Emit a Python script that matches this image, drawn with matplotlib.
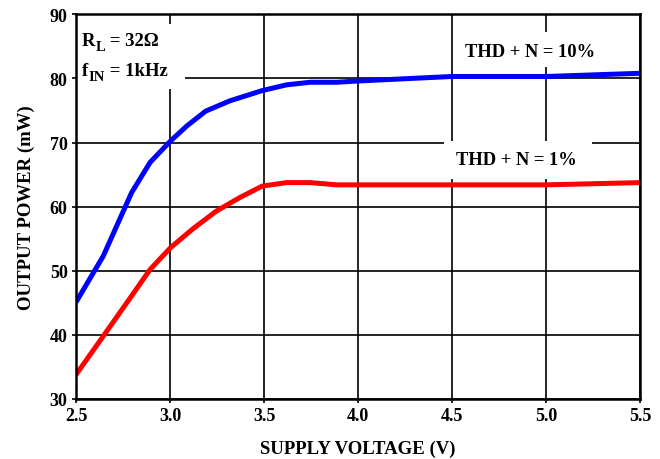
import matplotlib
matplotlib.use("Agg")
import matplotlib.pyplot as plt
from matplotlib.patches import Rectangle

# Data
v_10 = [2.5, 2.645, 2.796, 2.894, 3.003, 3.09, 3.19, 3.318, 3.49, 3.62, 3.745, 3.886, 4.0, 4.5, 5.0, 5.5]
p_10 = [45.1, 52.3, 62.2, 66.9, 70.25, 72.6, 74.9, 76.5, 78.1, 79.0, 79.4, 79.4, 79.6, 80.3, 80.3, 80.8]
v_1 = [2.5, 2.645, 2.77, 2.894, 3.003, 3.12, 3.246, 3.37, 3.49, 3.62, 3.745, 3.886, 4.06, 4.5, 5.0, 5.5]
p_1 = [33.8, 39.8, 45.0, 50.2, 53.6, 56.5, 59.3, 61.4, 63.2, 63.75, 63.75, 63.4, 63.4, 63.4, 63.4, 63.75]
x_ticks = [2.5, 3.0, 3.5, 4.0, 4.5, 5.0, 5.5]
x_labels = ["2.5", "3.0", "3.5", "4.0", "4.5", "5.0", "5.5"]
y_ticks = [30, 40, 50, 60, 70, 80, 90]

plt.rcParams['font.family'] = ['Liberation Serif', 'DejaVu Serif']
plt.rcParams['font.weight'] = 'bold'

fig = plt.figure(figsize=(6.6, 4.6), dpi=100)
ax = fig.add_axes([76/660, 1 - 400/460, (640 - 76)/660, (400 - 15.3)/460])
ax.set_xlim(2.5, 5.5)
ax.set_ylim(30, 90)
ax.set_xticks(x_ticks)
ax.set_xticklabels(x_labels)
ax.set_yticks(y_ticks)
ax.tick_params(axis='both', labelsize=13, length=3, width=1.2, direction='out', pad=3)
for lab in ax.get_xticklabels() + ax.get_yticklabels():
    lab.set_fontweight('bold')
ax.grid(True, color='black', linewidth=1.2, zorder=1)
ax.set_axisbelow(True)
for s in ax.spines.values():
    s.set_linewidth(1.8)
    s.set_zorder(5)

# white label boxes
for (x0, y0, x1, y1) in [(2.5, 78.3, 3.08, 88.5), (4.54, 81.8, 5.28, 87.2), (4.46, 64.3, 5.245, 70.3)]:
    ax.add_patch(Rectangle((x0, y0), x1 - x0, y1 - y0, facecolor='white', edgecolor='none', zorder=2))

ax.plot(v_10, p_10, color='#0000ff', linewidth=3.6, zorder=4, solid_capstyle='butt')
ax.plot(v_1, p_1, color='#ff0000', linewidth=3.6, zorder=4, solid_capstyle='butt')


def sub_label(x, y, main, sub, rest, size=13.5, subsize=10.5):
    t1 = ax.text(x, y, main, fontsize=size, fontweight='bold', va='baseline', ha='left', zorder=3)
    t2 = ax.annotate(sub, xy=(1, y), xycoords=(t1, 'data'), xytext=(0.3, -3.4),
                     textcoords='offset points', fontsize=subsize, fontweight='bold',
                     va='baseline', ha='left', zorder=3)
    ax.annotate(rest, xy=(1, y), xycoords=(t2, 'data'), xytext=(0, 0),
                textcoords='offset points', fontsize=size, fontweight='bold',
                va='baseline', ha='left', zorder=3)


sub_label(2.53, 85.2, "R", "L", " = 32Ω")
sub_label(2.53, 80.5, "f", "IN", " = 1kHz")
ax.text(4.57, 84.2, "THD + N = 10%", fontsize=13.3, fontweight='bold', va='center', ha='left', zorder=3)
ax.text(4.52, 67.3, "THD + N = 1%", fontsize=13.3, fontweight='bold', va='center', ha='left', zorder=3)

ax.set_xlabel("SUPPLY VOLTAGE (V)", fontsize=13.5, fontweight='bold', labelpad=11)
ax.set_ylabel("OUTPUT POWER (mW)", fontsize=13.5, fontweight='bold', labelpad=11)

fig.savefig("out.png", dpi=100)
